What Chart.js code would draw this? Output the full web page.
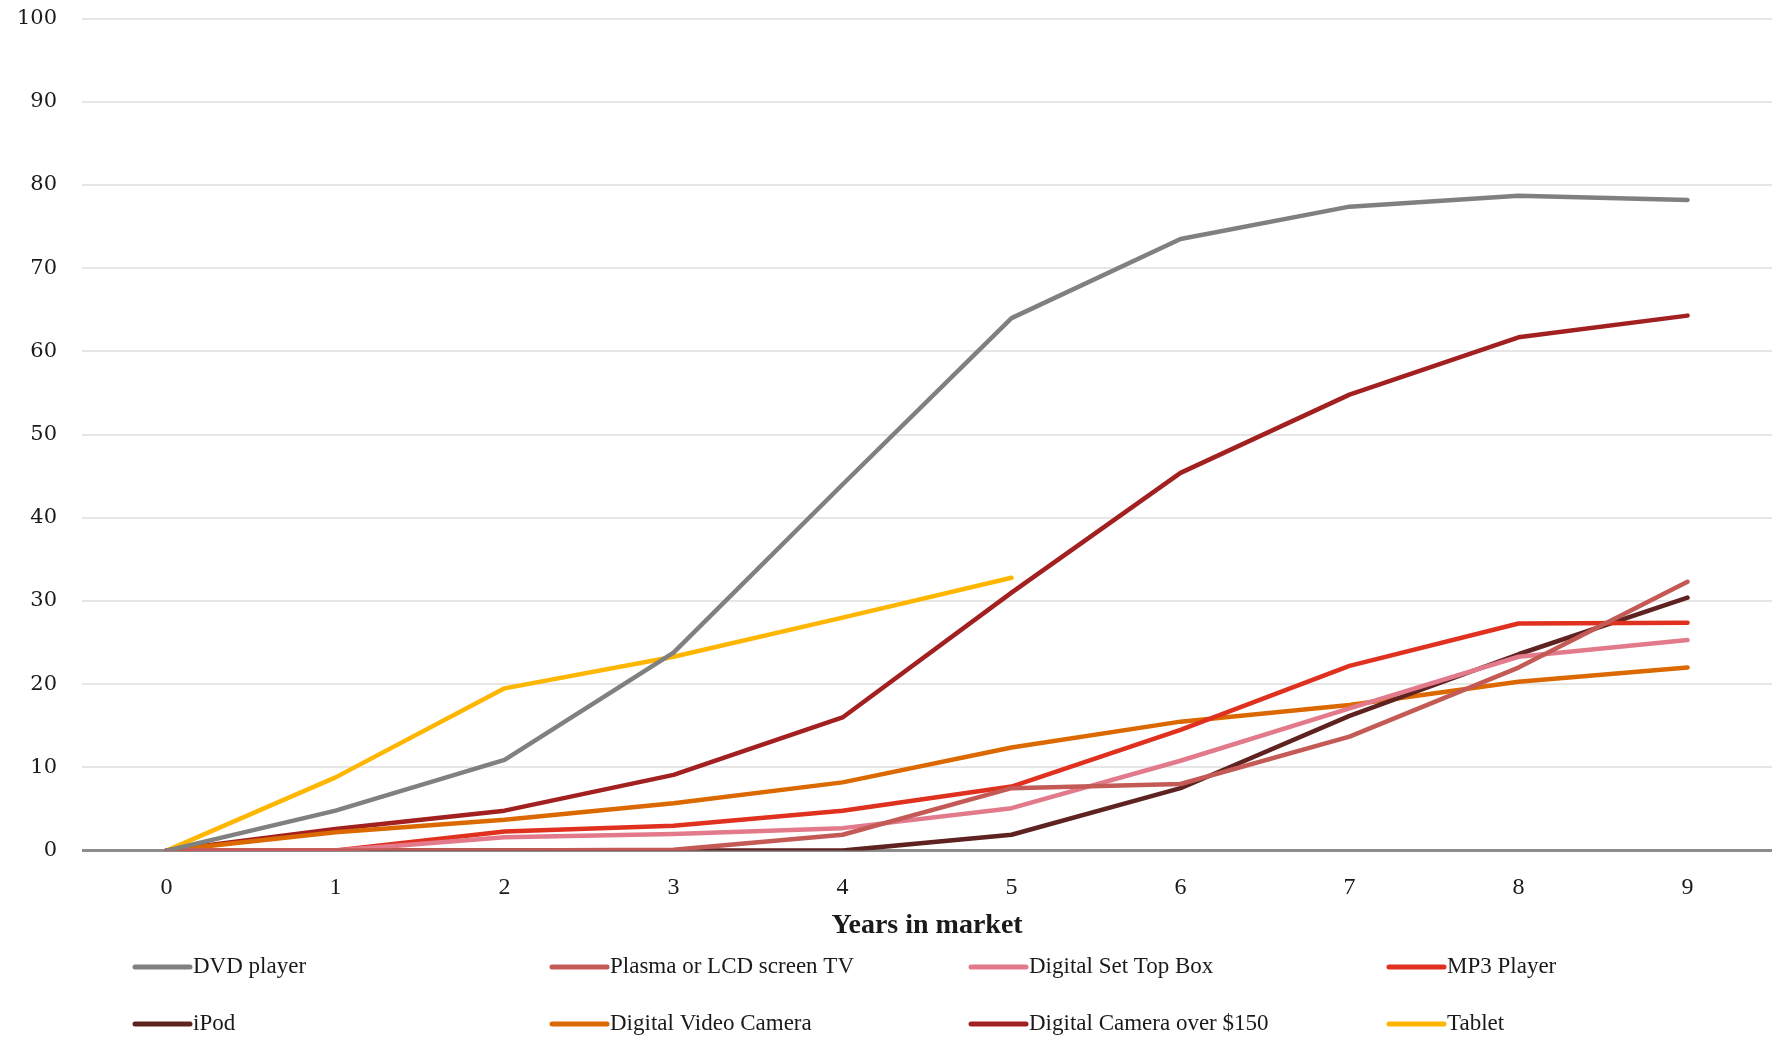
<!DOCTYPE html>
<html>
<head>
<meta charset="utf-8">
<script src="https://cdn.jsdelivr.net/npm/chart.js@4/dist/chart.umd.min.js"></script>
<style>
  html, body { margin: 0; padding: 0; background: #ffffff; overflow: hidden; }
  #wrap { position: relative; width: 1783px; height: 1038px; overflow: hidden; }
  #c { position: absolute; left: 0; top: -19px; }
</style>
</head>
<body>
<div id="wrap"><canvas id="c" width="1783" height="1057"></canvas></div>
<script>
// Years since launch
const years = ['0', '1', '2', '3', '4', '5', '6', '7', '8', '9'];
const yTicks = [0, 10, 20, 30, 40, 50, 60, 70, 80, 90, 100];

// Household penetration (%) by years in market
const dvdPlayer      = [0, 4.8, 10.9, 23.8, 44.0, 64.0, 73.5, 77.4, 78.7, 78.2];
const plasmaLcdTv    = [0, 0, 0, 0.1, 1.9, 7.5, 8.0, 13.7, 22.0, 32.3];
const setTopBox      = [0, 0, 1.6, 2.0, 2.7, 5.1, 10.8, 17.1, 23.3, 25.3];
const mp3Player      = [0, 0, 2.3, 3.0, 4.8, 7.7, 14.5, 22.2, 27.3, 27.4];
const iPod           = [0, 0, 0, 0, 0, 1.9, 7.5, 16.2, 23.6, 30.4];
const videoCamera    = [0, 2.2, 3.7, 5.7, 8.2, 12.4, 15.5, 17.5, 20.3, 22.0];
const cameraOver150  = [0, 2.6, 4.8, 9.1, 16.0, 31.0, 45.4, 54.8, 61.7, 64.3];
const tablet         = [0, 8.8, 19.5, 23.3, 28.0, 32.8, null, null, null, null];

const seriesNames = ['DVD player', 'Plasma or LCD screen TV', 'Digital Set Top Box', 'MP3 Player',
                     'iPod', 'Digital Video Camera', 'Digital Camera over $150', 'Tablet'];
const seriesData = [dvdPlayer, plasmaLcdTv, setTopBox, mp3Player, iPod, videoCamera, cameraOver150, tablet];
const seriesColors = ['#808080', '#c45a55', '#e27a8b', '#e0301e', '#5e2220', '#dc6900', '#a32020', '#ffb600'];

const SERIF = '"Liberation Serif", "DejaVu Serif", serif';
const WIDE_SERIF = '"DejaVu Serif", "Liberation Serif", serif';

const datasets = seriesNames.map((name, i) => ({
  label: name,
  data: seriesData[i],
  borderColor: seriesColors[i],
  backgroundColor: seriesColors[i],
  borderWidth: 4.5,
  pointRadius: 0,
  tension: 0,
  fill: false,
  spanGaps: false,
  borderCapStyle: 'round',
  borderJoinStyle: 'round'
}));

// Draw the legend as a 4-column grid underneath the axis title
const gridLegend = {
  id: 'gridLegend',
  afterDraw(chart, args, opts) {
    const ctx = chart.ctx;
    ctx.save();
    ctx.font = opts.fontSize + 'px ' + SERIF;
    ctx.textBaseline = 'middle';
    ctx.textAlign = 'left';
    chart.data.datasets.forEach((ds, i) => {
      const col = i % opts.columns;
      const row = Math.floor(i / opts.columns);
      const x = opts.colX[col];
      const y = opts.rowY[row];
      ctx.strokeStyle = ds.borderColor;
      ctx.lineWidth = 5;
      ctx.lineCap = 'round';
      ctx.beginPath();
      ctx.moveTo(x, y);
      ctx.lineTo(x + opts.sampleLen, y);
      ctx.stroke();
      ctx.fillStyle = '#1a1a1a';
      ctx.fillText(ds.label, x + opts.sampleLen + 3, y);
    });
    ctx.restore();
  }
};

new Chart(document.getElementById('c'), {
  type: 'line',
  data: { labels: years, datasets },
  plugins: [gridLegend],
  options: {
    responsive: false,
    animation: false,
    layout: { padding: { top: 8, left: -8, right: 11, bottom: 95 } },
    plugins: {
      legend: { display: false },
      tooltip: { enabled: false },
      gridLegend: {
        columns: 4,
        colX: [135, 552, 971, 1389],
        rowY: [986, 1043],
        sampleLen: 55,
        fontSize: 23
      }
    },
    scales: {
      x: {
        type: 'category',
        offset: true,
        grid: { display: false, drawTicks: false },
        border: { display: false },
        ticks: {
          color: '#1a1a1a',
          padding: 23,
          font: { family: SERIF, size: 24 },
          maxRotation: 0
        },
        title: {
          display: true,
          text: 'Years in market',
          color: '#1a1a1a',
          font: { family: SERIF, size: 28, weight: 'bold' },
          padding: { top: -16, bottom: 0 }
        }
      },
      y: {
        min: 0,
        max: 100,
        afterBuildTicks(scale) {
          scale.ticks = yTicks.map(v => ({ value: v }));
        },
        border: { display: false },
        grid: {
          drawTicks: false,
          color: ctx => (ctx.tick && ctx.tick.value === 0) ? '#8c8c8c' : '#e6e6e6',
          lineWidth: ctx => (ctx.tick && ctx.tick.value === 0) ? 3 : 2
        },
        ticks: {
          color: '#1a1a1a',
          padding: 25,
          font: { family: WIDE_SERIF, size: 21 }
        }
      }
    }
  }
});
</script>
</body>
</html>
